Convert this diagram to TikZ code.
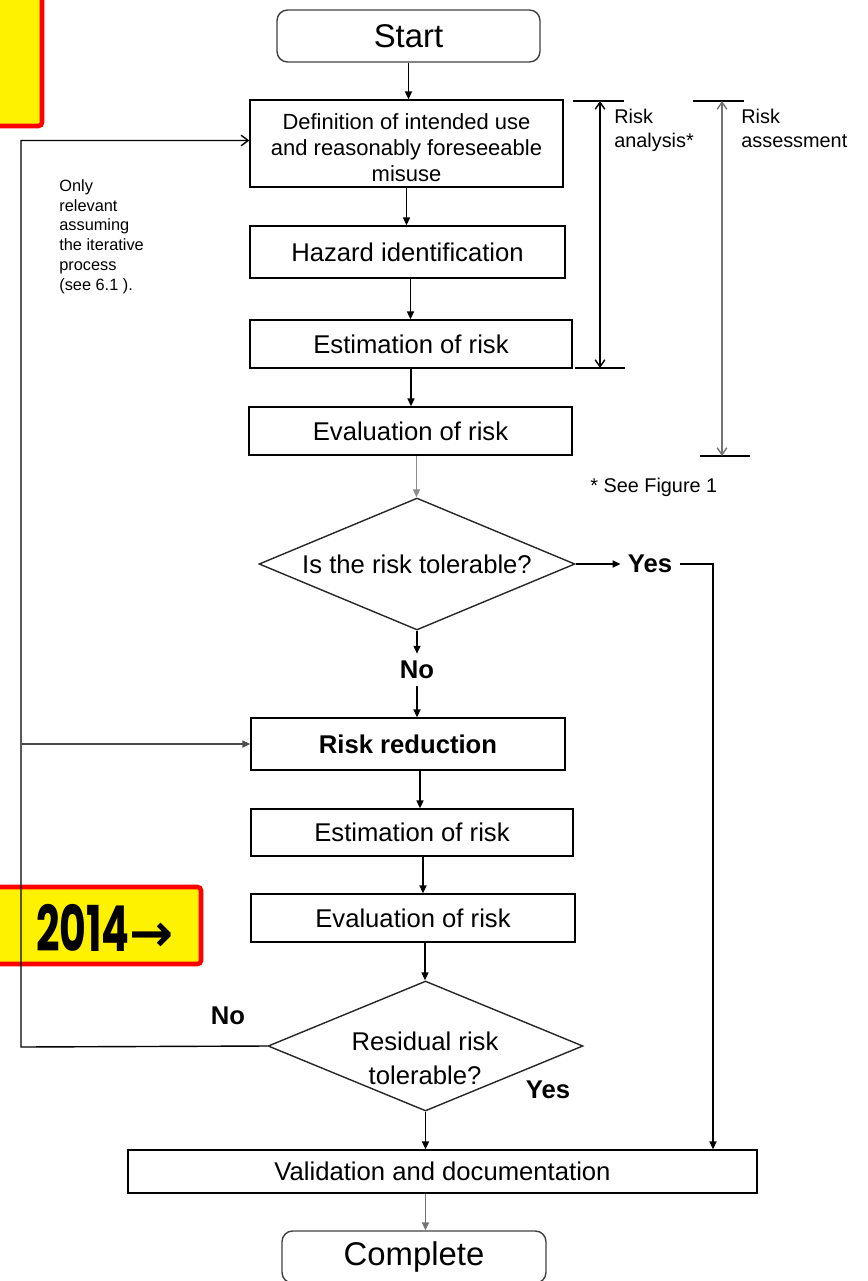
\documentclass[tikz,border=0pt]{standalone}
\usepackage{fontspec}
\setmainfont{Liberation Sans}
\newfontfamily\stampfont[FakeStretch=0.65]{Poppins}
\newfontfamily\arrowfont{DejaVu Sans}
\usepackage{tikz}
\usetikzlibrary{shapes.geometric,arrows.meta,calc,positioning}

\begin{document}
\begin{tikzpicture}[x=0.02cm, y=0.02cm, yscale=-1,
  box/.style={draw, line width=0.8pt, inner sep=0pt, align=center, font=\fontsize{14.6}{17}\selectfont},
  endbox/.style={box, draw=black!75, rounded corners=6pt, font=\fontsize{18.7}{22}\selectfont},
  decision/.style={draw=black!85, diamond, line width=0.8pt, inner sep=0pt, aspect=2.4, align=center, font=\fontsize{14.6}{19.3}\selectfont},
  answer/.style={inner sep=4pt, font=\bfseries\fontsize{14.6}{17}\selectfont},
  flow/.style={line width=0.8pt, -{Triangle[length=4.5pt,width=4pt]}},
  bracket/.style={line width=0.8pt, {Straight Barb[length=4pt,width=5.5pt]}-{Straight Barb[length=4pt,width=5.5pt]}},
  sidetext/.style={inner sep=0pt, anchor=north west, align=left, font=\fontsize{11.3}{13.6}\selectfont},
  stamp/.style={draw=red, fill=yellow, line width=2.6pt, rounded corners=2pt}]

\useasboundingbox (0,0) rectangle (867,1281);

\draw[stamp] (-10,-10) rectangle (42,126);
\draw[stamp] (-10,887) rectangle (201,964);
\node[inner sep=0pt] (year) at (105,928) {{\stampfont\bfseries\fontsize{36}{36}\selectfont 2014}{\arrowfont\bfseries\fontsize{30}{30}\selectfont →}};

\node[endbox, minimum width=5.26cm, minimum height=1.04cm] (start) at (408.5,36) {Start};
\node[box, minimum width=6.26cm, minimum height=1.74cm, font=\fontsize{12.5}{14.7}\selectfont] (def) at (406.5,143.5) {\rule{0pt}{13.6pt}Definition of intended use\\and reasonably foreseeable\\misuse};
\node[box, minimum width=6.3cm, minimum height=1.04cm] (haz) at (407.5,252) {Hazard identification};
\node[box, minimum width=6.44cm, minimum height=0.96cm] (est1) at (411,344) {Estimation of risk};
\node[box, minimum width=6.46cm, minimum height=0.96cm] (eva1) at (410.5,431) {Evaluation of risk};
\node[decision, minimum width=6.32cm, minimum height=2.64cm] (dia1) at (417,564) {Is the risk tolerable?};
\node[answer] (yes1) at (650,564) {Yes};
\node[answer] (no1) at (417,670) {No};
\node[box, minimum width=6.28cm, minimum height=1.04cm, font=\bfseries\fontsize{14.6}{17}\selectfont] (red) at (408,744) {Risk reduction};
\node[box, minimum width=6.44cm, minimum height=0.94cm] (est2) at (412,832.5) {Estimation of risk};
\node[box, minimum width=6.48cm, minimum height=0.96cm] (eva2) at (413,918) {Evaluation of risk};
\node[decision, minimum width=6.3cm, minimum height=2.6cm] (dia2) at (425.5,1046) {};
\node[align=center, inner sep=0pt, font=\fontsize{14.6}{19.3}\selectfont] (dia2text) at (425,1058) {Residual risk\\tolerable?};
\node[answer] (no2) at (228,1016) {No};
\node[answer] (yes2) at (548,1090) {Yes};
\node[box, minimum width=12.58cm, minimum height=0.86cm] (val) at (442.5,1171.5) {Validation and documentation};
\node[endbox, minimum width=5.28cm, minimum height=1.04cm] (comp) at (414,1257) {Complete};

\node[sidetext] (ratext) at (614,109) {Risk\\analysis*};
\node[sidetext] (astext) at (741,109) {Risk\\assessment};
\node[sidetext, anchor=west] (fignote) at (590,487) {* See Figure 1};
\node[sidetext, font=\fontsize{9.3}{11.3}\selectfont] (note) at (59,179) {Only\\relevant\\assuming\\the iterative\\process\\(see 6.1 ).};

\draw[flow] (start) -- (start |- def.north);
\draw[flow] (def) -- (def |- haz.north);
\draw[flow] ([xshift=0.06cm]haz.south) -- ([xshift=0.06cm]haz.south |- est1.north);
\draw[flow] (est1) -- (est1 |- eva1.north);
\draw[flow, draw=black!45] ([xshift=0.12cm]eva1.south) -- ([xshift=0.12cm]eva1.south |- dia1.north);
\draw[flow] (dia1.south) -- (dia1.south |- no1.north);
\draw[flow] (no1.south) -- (no1.south |- red.north);
\draw[flow] (dia1.east) -- (yes1.west);
\coordinate (yright) at (713,564);
\draw[flow] (yes1.east) -- (yright) -- (yright |- val.north);
\draw[flow] ([xshift=0.24cm]red.south) -- ([xshift=0.24cm]red.south |- est2.north);
\draw[flow] ([xshift=0.22cm]est2.south) -- ([xshift=0.22cm]est2.south |- eva2.north);
\draw[flow] ([xshift=0.24cm]eva2.south) -- ([xshift=0.24cm]eva2.south |- dia2.north);
\draw[flow] (dia2.south) -- (dia2.south |- val.north);
\draw[flow, draw=black!55] (dia2.south |- val.south) -- (dia2.south |- comp.north);
\coordinate (loop) at (21,1047);
\draw[line width=0.8pt, -{Straight Barb[length=4pt,width=6pt]}] (dia2.west) -- (loop) |- ([yshift=-0.06cm]def.west);
\draw[flow, draw=black!70] (loop |- red.west) -- (red.west);

\coordinate (ratop) at (600,101);
\coordinate (rabot) at (600,368);
\coordinate (astop) at (722,101);
\coordinate (asbot) at (722,456);
\draw[line width=0.8pt] (573,101) -- (624,101) (575,368) -- (625,368);
\draw[line width=0.8pt] (693,101) -- (744,101) (700,456) -- (750,456);
\draw[bracket] (ratop) -- (rabot);
\draw[bracket, draw=black!55] (astop) -- (asbot);
\end{tikzpicture}
\end{document}
